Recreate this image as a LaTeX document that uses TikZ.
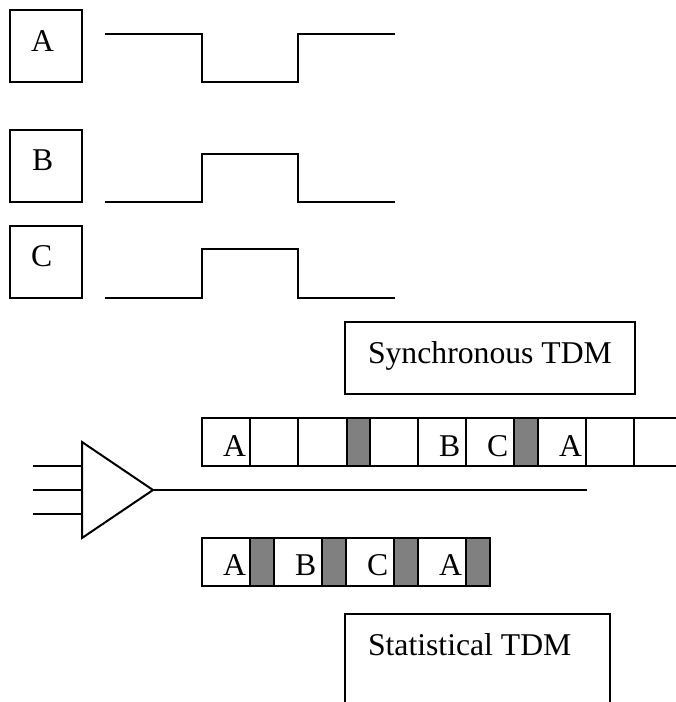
\documentclass[tikz,border=0pt]{standalone}
\usepackage{fontspec}
\setmainfont{Liberation Serif}
\usepackage{tikz}
\definecolor{idlegray}{HTML}{808080}

\begin{document}
\begin{tikzpicture}[x=1pt, y=-1pt, line width=2pt,
                every node/.style={font=\fontsize{31.7}{38}\selectfont, inner sep=0pt, anchor=base west},
                boxline/.style={line width=2.5pt},
                idleslot/.style={line width=2.5pt, fill=idlegray}]
                \useasboundingbox (0,0) rectangle (676,702);
                \draw[boxline] (10,10) rectangle (82,82);
                \draw[boxline] (10,130) rectangle (82,202);
                \draw[boxline] (10,226) rectangle (82,298);
                \node (chanA) at (30,51) {A};
                \node (chanB) at (31,170) {B};
                \node (chanC) at (30,266) {C};
                \draw (105,34) -- (202,34) -- (202,82) -- (298,82) -- (298,34) -- (395,34);
                \draw (105,202) -- (202,202) -- (202,154) -- (298,154) -- (298,202) -- (395,202);
                \draw (105,298) -- (202,298) -- (202,249) -- (298,249) -- (298,298) -- (395,298);
                \draw[boxline] (345,322) rectangle (635,394);
                \node (synclabel) at (367,363) {Synchronous TDM};
                \foreach \xl/\xr/\txt [count=\i] in {202/250/A, 250/298/, 298/347/, 370/418/, 418/466/B, 466/514/C, 538/586/A, 586/634/} {
                  \draw[boxline] (\xl,418) rectangle (\xr,466);
                  \node (sync\i) at (\xl+20,456) {\txt};
                }
                \foreach \xl/\xr in {347/370, 514/538}
                  \draw[idleslot] (\xl,418) rectangle (\xr,466);
                \draw[boxline] (634,418) -- (680,418);
                \draw[boxline] (634,466) -- (680,466);
                \draw (82,442) -- (153,490) coordinate (apex) -- (82,538) -- cycle;
                \foreach \y [count=\i] in {466, 490, 514} {
                  \coordinate (in\i) at (33,\y);
                  \draw (in\i) -- (82,\y);
                }
                \coordinate (lineend) at (587,490);
                \draw (apex) -- (lineend);
                \foreach \xl/\xr/\txt [count=\i] in {202/250/A, 274/322/B, 346/394/C, 418/466/A} {
                  \draw[boxline] (\xl,538) rectangle (\xr,586);
                  \node (stat\i) at (\xl+20,575) {\txt};
                }
                \foreach \xl/\xr in {250/274, 322/346, 394/418, 466/490}
                  \draw[idleslot] (\xl,538) rectangle (\xr,586);
                \draw[boxline] (345,706) -- (345,614) -- (610,614) -- (610,706);
                \node (statlabel) at (367,655) {Statistical TDM};
              \end{tikzpicture}
\end{document}
